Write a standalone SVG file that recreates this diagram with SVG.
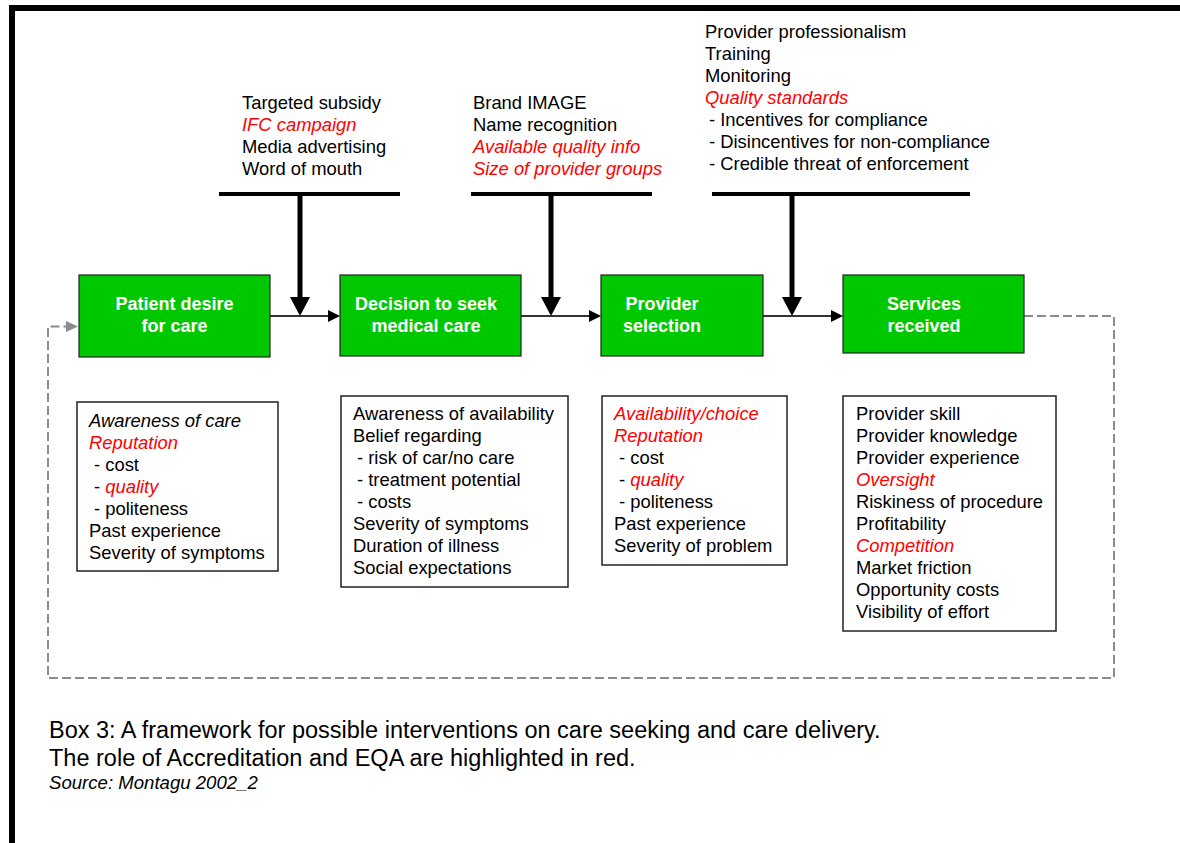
<svg xmlns="http://www.w3.org/2000/svg" width="1180" height="843" viewBox="0 0 1180 843">
<style>
  text { font-family: "Liberation Sans", Arial, sans-serif; }
  .t { font-size: 18.4px; fill: #000; }
  .r { fill: #ff0000; font-style: italic; }
  .i { font-style: italic; }
  .g { fill: #00c800; stroke: #222; stroke-width: 1.2; }
  .gt { font-size: 18px; font-weight: bold; fill: #fff; text-anchor: middle; }
  .box { fill: #fff; stroke: #222; stroke-width: 1.5; }
  .bar { stroke: #000; stroke-width: 4; fill: none; }
  .down { stroke: #000; stroke-width: 5; fill: none; }
  .flow { stroke: #333; stroke-width: 2; fill: none; }
  .dash { stroke: #8c8c8c; stroke-width: 2; fill: none; stroke-dasharray: 9 4; }
  .cap { font-size: 23.5px; fill: #000; }
</style>
<defs>
  <marker id="ah" markerUnits="userSpaceOnUse" markerWidth="12" markerHeight="12" refX="0" refY="6" orient="auto">
    <path d="M0,0 L12,6 L0,12 Z" fill="#000"/>
  </marker>
  <marker id="ahd" markerUnits="userSpaceOnUse" markerWidth="20" markerHeight="20" refX="0" refY="10" orient="auto">
    <path d="M0,0 L19,10 L0,20 Z" fill="#000"/>
  </marker>
  <marker id="ahg" markerUnits="userSpaceOnUse" markerWidth="12" markerHeight="12" refX="0" refY="5.5" orient="auto">
    <path d="M0,0 L12,5.5 L0,11 Z" fill="#8c8c8c"/>
  </marker>
</defs>
<rect width="1180" height="843" fill="#fff"/>
<!-- frame -->
<path d="M12,843 V8 H1180" stroke="#000" stroke-width="6" fill="none"/>

<!-- intervention text groups -->
<g id="interventions-1">
  <text class="t" x="242" y="109">Targeted subsidy</text>
  <text class="t r" x="242" y="131">IFC campaign</text>
  <text class="t" x="242" y="153">Media advertising</text>
  <text class="t" x="242" y="175">Word of mouth</text>
</g>
<g id="interventions-2">
  <text class="t" x="473" y="109">Brand IMAGE</text>
  <text class="t" x="473" y="131">Name recognition</text>
  <text class="t r" x="473" y="153">Available quality info</text>
  <text class="t r" x="473" y="175">Size of provider groups</text>
</g>
<g id="interventions-3">
  <text class="t" x="705" y="38">Provider professionalism</text>
  <text class="t" x="705" y="60">Training</text>
  <text class="t" x="705" y="82">Monitoring</text>
  <text class="t r" x="705" y="104">Quality standards</text>
  <text class="t" x="709" y="126">- Incentives for compliance</text>
  <text class="t" x="709" y="148">- Disincentives for non-compliance</text>
  <text class="t" x="709" y="170">- Credible threat of enforcement</text>
</g>

<!-- connectors -->
<g id="connectors">
  <line class="bar" x1="219" y1="194" x2="400" y2="194"/>
  <line class="bar" x1="471" y1="194" x2="652" y2="194"/>
  <line class="bar" x1="712" y1="194" x2="970" y2="194"/>
  <line class="down" x1="300" y1="194" x2="300" y2="297" marker-end="url(#ahd)"/>
  <line class="down" x1="551" y1="194" x2="551" y2="297" marker-end="url(#ahd)"/>
  <line class="down" x1="792" y1="194" x2="792" y2="297" marker-end="url(#ahd)"/>
  <line class="flow" x1="270" y1="316" x2="328" y2="316" marker-end="url(#ah)"/>
  <line class="flow" x1="521" y1="316" x2="589" y2="316" marker-end="url(#ah)"/>
  <line class="flow" x1="763" y1="316" x2="831" y2="316" marker-end="url(#ah)"/>
  <path class="dash" d="M1024,316 H1114 V678 H48 V326.5 H66" marker-end="url(#ahg)"/>
</g>

<!-- process nodes -->
<g id="patient-desire">
  <rect class="g" x="79" y="275" width="191" height="82"/>
  <text class="gt" x="174.5" y="310">Patient desire</text>
  <text class="gt" x="174.5" y="332">for care</text>
</g>
<g id="decision-to-seek">
  <rect class="g" x="340" y="275" width="181" height="81"/>
  <text class="gt" x="426" y="310">Decision to seek</text>
  <text class="gt" x="426" y="332">medical care</text>
</g>
<g id="provider-selection">
  <rect class="g" x="601" y="275" width="162" height="81"/>
  <text class="gt" x="662" y="310">Provider</text>
  <text class="gt" x="662" y="332">selection</text>
</g>
<g id="services-received">
  <rect class="g" x="843" y="275" width="181" height="78"/>
  <text class="gt" x="924" y="310">Services</text>
  <text class="gt" x="924" y="332">received</text>
</g>

<!-- factor boxes -->
<g id="factors-patient">
  <rect class="box" x="77" y="402" width="201" height="169"/>
  <text class="t i" x="89" y="427">Awareness of care</text>
  <text class="t r" x="89" y="449">Reputation</text>
  <text class="t" x="94" y="471">- cost</text>
  <text class="t" x="94" y="493">- <tspan class="r">quality</tspan></text>
  <text class="t" x="94" y="515">- politeness</text>
  <text class="t" x="89" y="537">Past experience</text>
  <text class="t" x="89" y="559">Severity of symptoms</text>
</g>
<g id="factors-decision">
  <rect class="box" x="341" y="396" width="227" height="191"/>
  <text class="t" x="353" y="420">Awareness of availability</text>
  <text class="t" x="353" y="442">Belief regarding</text>
  <text class="t" x="357" y="464">- risk of car/no care</text>
  <text class="t" x="357" y="486">- treatment potential</text>
  <text class="t" x="357" y="508">- costs</text>
  <text class="t" x="353" y="530">Severity of symptoms</text>
  <text class="t" x="353" y="552">Duration of illness</text>
  <text class="t" x="353" y="574">Social expectations</text>
</g>
<g id="factors-provider">
  <rect class="box" x="602" y="396" width="185" height="169"/>
  <text class="t r" x="614" y="420">Availability/choice</text>
  <text class="t r" x="614" y="442">Reputation</text>
  <text class="t" x="619" y="464">- cost</text>
  <text class="t" x="619" y="486">- <tspan class="r">quality</tspan></text>
  <text class="t" x="619" y="508">- politeness</text>
  <text class="t" x="614" y="530">Past experience</text>
  <text class="t" x="614" y="552">Severity of problem</text>
</g>
<g id="factors-services">
  <rect class="box" x="843" y="396" width="213" height="235"/>
  <text class="t" x="856" y="420">Provider skill</text>
  <text class="t" x="856" y="442">Provider knowledge</text>
  <text class="t" x="856" y="464">Provider experience</text>
  <text class="t r" x="856" y="486">Oversight</text>
  <text class="t" x="856" y="508">Riskiness of procedure</text>
  <text class="t" x="856" y="530">Profitability</text>
  <text class="t r" x="856" y="552">Competition</text>
  <text class="t" x="856" y="574">Market friction</text>
  <text class="t" x="856" y="596">Opportunity costs</text>
  <text class="t" x="856" y="618">Visibility of effort</text>
</g>

<!-- caption -->
<g id="caption">
  <text class="cap" x="49" y="738">Box 3: A framework for possible interventions on care seeking and care delivery.</text>
  <text class="cap" x="49" y="766">The role of Accreditation and EQA are highlighted in red.</text>
  <text class="t i" x="49" y="789" style="font-size:18.6px">Source: Montagu 2002_2</text>
</g>
</svg>
